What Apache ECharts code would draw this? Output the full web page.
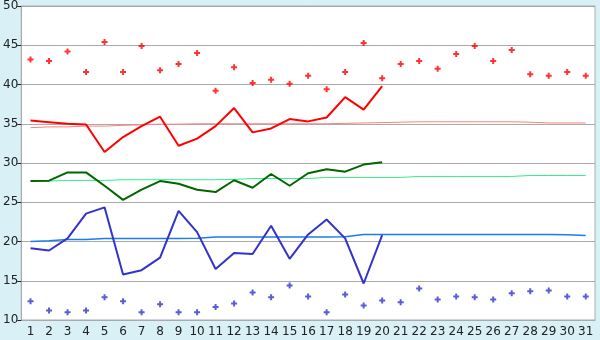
<!DOCTYPE html>
<html>
<head>
<meta charset="utf-8">
<script src="https://cdn.jsdelivr.net/npm/echarts@6/dist/echarts.min.js"></script>
<style>
  html, body { margin: 0; padding: 0; background: #d9f0f7; }
  #main { width: 600px; height: 340px; }
</style>
</head>
<body>
<div id="main"></div>
<script>
// 日期 1..31
var days = [];
for (var d = 1; d <= 31; d++) days.push(String(d));

// 红色散点 (上)
var redDots = [43.2, 43.0, 44.2, 41.6, 45.4, 41.6, 44.9, 41.8, 42.6, 44.0,
               39.2, 42.2, 40.2, 40.6, 40.1, 41.1, 39.4, 41.6, 45.3, 40.8,
               42.6, 43.0, 42.0, 43.9, 44.9, 43.0, 44.4, 41.3, 41.1, 41.6, 41.1];
// 红线 (前20天)
var redLine = [35.4, 35.2, 35.0, 34.9, 31.4, 33.3, 34.7, 35.9, 32.2, 33.1,
               34.7, 37.0, 33.9, 34.4, 35.6, 35.3, 35.8, 38.4, 36.8, 39.8];
var redTrend = [34.5, 34.6, 34.6, 34.7, 34.7, 34.8, 34.85, 34.95, 34.95, 35.0,
                35.0, 35.0, 35.0, 35.0, 35.0, 35.0, 35.0, 35.05, 35.1, 35.15,
                35.2, 35.25, 35.25, 35.25, 35.25, 35.25, 35.25, 35.2, 35.1, 35.1, 35.1];

// 绿线
var greenLine = [27.7, 27.75, 28.8, 28.8, 27.1, 25.3, 26.6, 27.7, 27.35, 26.6,
                 26.3, 27.8, 26.85, 28.6, 27.1, 28.7, 29.2, 28.9, 29.8, 30.1];
var greenTrend = [27.7, 27.7, 27.78, 27.78, 27.78, 27.87, 27.87, 27.87, 27.87, 27.87,
                  27.87, 27.9, 28.03, 28.03, 28.03, 28.03, 28.16, 28.16, 28.16, 28.16,
                  28.16, 28.29, 28.29, 28.29, 28.29, 28.29, 28.29, 28.41, 28.41, 28.41, 28.41];

// 蓝线
var blueLine = [19.15, 18.85, 20.4, 23.55, 24.35, 15.8, 16.35, 17.95, 23.9, 21.2,
                16.5, 18.55, 18.4, 22.0, 17.8, 20.9, 22.8, 20.4, 14.65, 20.8];
var blueTrend = [20.0, 20.1, 20.25, 20.25, 20.38, 20.38, 20.38, 20.38, 20.38, 20.4,
                 20.58, 20.58, 20.58, 20.58, 20.58, 20.58, 20.58, 20.6, 20.88, 20.88,
                 20.88, 20.88, 20.88, 20.88, 20.88, 20.88, 20.88, 20.88, 20.88, 20.85, 20.75];

// 蓝色散点 (下)
var blueDots = [12.4, 11.2, 11.0, 11.2, 12.9, 12.4, 11.0, 12.0, 11.0, 11.0,
                11.65, 12.1, 13.5, 12.9, 14.4, 13.0, 11.0, 13.25, 11.85, 12.5,
                12.25, 14.0, 12.6, 13.0, 12.9, 12.6, 13.4, 13.65, 13.75, 13.0, 13.0];

// 加粗的十字点
var plus = 'path://M2,0H4V2H6V4H4V6H2V4H0V2H2Z';
var font = 'DejaVu Sans';

var myChart = echarts.init(document.getElementById('main'));

function lineS(data, color, width, z) {
    return {
        type: 'line',
        data: data,
        symbol: 'none',
        smooth: false,
        animation: false,
        z: z,
        lineStyle: { color: color, width: width }
    };
}
function dotS(data, color) {
    return {
        type: 'scatter',
        data: data,
        symbol: plus,
        symbolSize: 6,
        animation: false,
        z: 5,
        itemStyle: { color: color }
    };
}

myChart.setOption({
    backgroundColor: '#d9f0f7',
    animation: false,
    grid: {
        left: 20,
        right: 5,
        top: 5,
        bottom: 20,
        show: true,
        backgroundColor: '#ffffff',
        borderColor: '#aaaaaa',
        borderWidth: 1
    },
    xAxis: {
        type: 'category',
        data: days,
        boundaryGap: true,
        axisLine: { lineStyle: { color: '#aaaaaa' } },
        axisTick: { alignWithLabel: true, interval: 0, length: 5, lineStyle: { color: '#222' } },
        axisLabel: { interval: 0, color: '#222', fontFamily: font, fontSize: 12, margin: 6 },
        splitLine: { show: false }
    },
    yAxis: {
        type: 'value',
        min: 10,
        max: 50,
        interval: 5,
        axisLine: { show: true, lineStyle: { color: '#aaaaaa' } },
        axisTick: { show: true, length: 4, lineStyle: { color: '#222' } },
        axisLabel: { color: '#222', fontFamily: font, fontSize: 12, margin: 3 },
        splitLine: { show: true, lineStyle: { color: '#aaaaaa', width: 1 } }
    },
    series: [
        lineS(redTrend, '#ff8080', 1, 2),
        lineS(greenTrend, '#33ee88', 1, 2),
        lineS(blueTrend, '#1a7cf0', 1.5, 2),
        lineS(redLine, '#ff0000', 2, 3),
        lineS(greenLine, '#006600', 2, 3),
        lineS(blueLine, '#3333cc', 2, 3),
        dotS(redDots, '#ff0000'),
        dotS(blueDots, '#3333cc')
    ]
});
</script>
</body>
</html>
